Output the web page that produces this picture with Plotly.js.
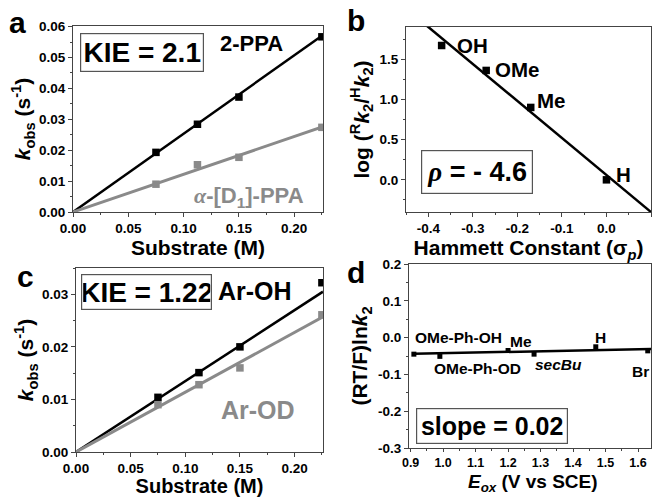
<!DOCTYPE html>
<html><head><meta charset="utf-8">
<script src="https://cdn.plot.ly/plotly-3.0.1.min.js"></script>
<style>html,body{margin:0;padding:0;background:#fff}#chart{width:658px;height:497px}</style>
</head><body><div id="chart"></div>
<script>
// ---------- Panel a: kobs vs [substrate], 2-PPA vs alpha-[D1]-PPA ----------
const substrateA = [0.075, 0.1125, 0.15, 0.225];
const kobsPPA = [0.0193, 0.0284, 0.0372, 0.0567];
const kobsD1PPA = [0.0090, 0.0153, 0.0177, 0.0274];
const fitXA = [0, 0.226];
const fitPPA = [0, 0.0573];
const fitD1PPA = [0, 0.0276];

// ---------- Panel b: Hammett plot ----------
const sigmaP = [-0.37, -0.27, -0.17, 0.0];
const logRatio = [1.67, 1.36, 0.90, 0.0];
const substituentsB = ["OH", "OMe", "Me", "H"];
const fitXB = [-0.41, 0.1];
const fitYB = [1.946, -0.40];

// ---------- Panel c: kobs vs [substrate], Ar-OH vs Ar-OD ----------
const substrateC = [0.075, 0.1125, 0.15, 0.225];
const kobsArOH = [0.0104, 0.0151, 0.0200, 0.0322];
const kobsArOD = [0.0090, 0.0128, 0.0160, 0.0261];
const fitXC = [0, 0.226];
const fitArOH = [0, 0.0305];
const fitArOD = [0, 0.0257];

// ---------- Panel d: (RT/F)ln k2 vs Eox ----------
const eox = [0.91, 0.99, 1.20, 1.28, 1.47, 1.63];
const rtfLnK2 = [-0.045, -0.051, -0.035, -0.045, -0.025, -0.036];
const substituentsD = ["OMe-Ph-OH", "OMe-Ph-OD", "Me", "secBu", "H", "Br"];
const fitXD = [0.91, 1.64];
const fitYD = [-0.044, -0.031];

// tick labels (hyphen minus as in the original)
const tickValsBx = [-0.4, -0.3, -0.2, -0.1, 0.0, 0.1];
const tickTextBx = ["-0.4", "-0.3", "-0.2", "-0.1", "0.0", "0.1"];
const tickValsDy = [-0.3, -0.2, -0.1, 0.0, 0.1, 0.2];
const tickTextDy = ["-0.3", "-0.2", "-0.1", "0.0", "0.1", "0.2"];

const W = 658, H = 497;
const BLACK = '#000000', GRAY = '#8a8a8a';
const FONT = 'Liberation Sans, Arial, sans-serif';

function mk(x, y, color, xa, ya, size) {
  return {x: x, y: y, xaxis: xa, yaxis: ya, type: 'scatter', mode: 'markers',
    marker: {symbol: 'square', size: size || 7.5, color: color}, showlegend: false, hoverinfo: 'x+y'};
}
function ln(x, y, color, xa, ya, w) {
  return {x: x, y: y, xaxis: xa, yaxis: ya, type: 'scatter', mode: 'lines',
    line: {color: color, width: w || 2.5}, showlegend: false, hoverinfo: 'skip'};
}

const traces = [
  ln(fitXA, fitPPA, BLACK, 'x', 'y', 2.5),
  ln(fitXA, fitD1PPA, GRAY, 'x', 'y', 3),
  mk(substrateA, kobsPPA, BLACK, 'x', 'y'),
  mk(substrateA, kobsD1PPA, GRAY, 'x', 'y'),
  ln(fitXB, fitYB, BLACK, 'x2', 'y2', 2.5),
  mk(sigmaP, logRatio, BLACK, 'x2', 'y2'),
  ln(fitXC, fitArOH, BLACK, 'x3', 'y3', 2.5),
  ln(fitXC, fitArOD, GRAY, 'x3', 'y3', 3),
  mk(substrateC, kobsArOH, BLACK, 'x3', 'y3'),
  mk(substrateC, kobsArOD, GRAY, 'x3', 'y3'),
  ln(fitXD, fitYD, BLACK, 'x4', 'y4', 2.5),
  mk(eox, rtfLnK2, BLACK, 'x4', 'y4', 5)
];

const tickFont = {family: FONT, size: 13.5, color: '#000', weight: 'bold'};
const tickFontD = {family: FONT, size: 12.5, color: '#000', weight: 'bold'};
const titleFont = {family: FONT, size: 21, color: '#000', weight: 'bold'};
const titleFontLow = {family: FONT, size: 20, color: '#000', weight: 'bold'};
function axis(domain, range, extra) {
  return Object.assign({
    domain: domain, range: range, showline: true, linecolor: '#444', linewidth: 1,
    mirror: true, ticks: 'outside', ticklen: 4, tickwidth: 1, tickcolor: '#444',
    showgrid: false, zeroline: false, tickfont: tickFont, fixedrange: true
  }, extra);
}
function xd(a, b) { return [a / W, b / W]; }
function yd(top, bottom) { return [1 - bottom / H, 1 - top / H]; }

const layout = {
  width: W, height: H, margin: {l: 0, r: 0, t: 0, b: 0},
  paper_bgcolor: '#fff', plot_bgcolor: '#fff', showlegend: false,
  font: {family: FONT},
  xaxis: axis(xd(73, 323), [0, 0.226], {anchor: 'y', dtick: 0.05, tick0: 0, tickformat: '.2f',
    minor: {dtick: 0.025, ticks: 'outside', ticklen: 2, tickcolor: '#444'},
    title: {text: 'Substrate (M)', font: titleFont, standoff: 1}}),
  yaxis: axis(yd(26, 212), [0, 0.0602], {anchor: 'x', dtick: 0.01, tick0: 0, tickformat: '.2f',
    minor: {dtick: 0.005, ticks: 'outside', ticklen: 2, tickcolor: '#444'},
    title: {text: '<i>k</i><sub>obs</sub> (s<sup>-1</sup>)', font: titleFont, standoff: 2}}),
  xaxis2: axis(xd(406, 651), [-0.45, 0.1], {anchor: 'y2', tickvals: tickValsBx, ticktext: tickTextBx,
    minor: {dtick: 0.05, tick0: 0, ticks: 'outside', ticklen: 2, tickcolor: '#444'},
    title: {text: 'Hammett Constant (σ<sub><i>p</i></sub>)', font: titleFont, standoff: 1}}),
  yaxis2: axis(yd(27, 212), [-0.4, 1.9], {anchor: 'x2', dtick: 0.5, tick0: 0, tickformat: '.1f',
    minor: {dtick: 0.25, tick0: 0, ticks: 'outside', ticklen: 2, tickcolor: '#444'},
    title: {text: 'log (<sup>R</sup><i>k</i><sub>2</sub>/<sup>H</sup><i>k</i><sub>2</sub>)', font: titleFont, standoff: 4}}),
  xaxis3: axis(xd(76, 323), [0, 0.226], {anchor: 'y3', dtick: 0.05, tick0: 0, tickformat: '.2f',
    minor: {dtick: 0.025, ticks: 'outside', ticklen: 2, tickcolor: '#444'},
    title: {text: 'Substrate (M)', font: titleFontLow, standoff: 1}}),
  yaxis3: axis(yd(268, 452), [0, 0.035], {anchor: 'x3', dtick: 0.01, tick0: 0, tickformat: '.2f',
    minor: {dtick: 0.005, ticks: 'outside', ticklen: 2, tickcolor: '#444'},
    title: {text: '<i>k</i><sub>obs</sub> (s<sup>-1</sup>)', font: titleFont, standoff: 2}}),
  xaxis4: axis(xd(409, 651), [0.895, 1.64], {anchor: 'y4', dtick: 0.1, tick0: 0.9, tickformat: '.1f',
    tickfont: tickFontD, ticklen: 3,
    minor: {dtick: 0.05, tick0: 0.9, ticks: 'outside', ticklen: 2, tickcolor: '#444'}}),
  yaxis4: axis(yd(264, 448), [-0.3, 0.2], {anchor: 'x4', tickvals: tickValsDy, ticktext: tickTextDy,
    minor: {dtick: 0.05, tick0: 0, ticks: 'outside', ticklen: 2, tickcolor: '#444'},
    title: {text: '(RT/F)ln<i>k</i><sub>2</sub>', font: titleFont, standoff: 4}}),
  annotations: []
};

function ann(text, x, y, size, color, extra) {
  return Object.assign({text: text, x: x / W, y: 1 - y / H, xref: 'paper', yref: 'paper',
    showarrow: false, xanchor: 'center', yanchor: 'middle',
    font: {family: FONT, size: size, color: color || '#000', weight: 'bold'}}, extra || {});
}
function boxed(text, x0, x1, y0, y1, size) {
  return ann(text, (x0 + x1) / 2, (y0 + y1) / 2, size, '#000',
    {bordercolor: '#555', borderwidth: 1.2, borderpad: 1, bgcolor: 'rgba(255,255,255,0)',
     width: x1 - x0 - 4, height: y1 - y0 - 4, align: 'center', valign: 'middle'});
}

const A = layout.annotations;
// panel letters
A.push(ann('a', 17.5, 23, 30), ann('b', 356, 21, 30), ann('c', 25, 276, 30), ann('d', 356, 272, 30));
// panel a
A.push(boxed('KIE = 2.1', 80, 204, 33, 72, 28));
A.push(ann('2-PPA', 251, 43, 22));
A.push(ann('<span style="font-family:\'Liberation Serif\'"><i>α</i></span>-[D<sub>1</sub>]-PPA', 249, 197, 22, GRAY));
// panel b
const labPosB = [[472, 45], [517, 69], [551, 100], [623, 174]];
substituentsB.forEach((s, i) => A.push(ann(s, labPosB[i][0], labPosB[i][1], 20.5)));
A.push(boxed('<span style="font-family:\'Liberation Serif\'"><i>ρ</i></span> = - 4.6', 421, 533, 150, 194, 27));
// panel c
A.push(boxed('KIE = 1.22', 81, 212, 274, 310, 28));
A.push(ann('Ar-OH', 255.5, 291, 25));
A.push(ann('Ar-OD', 257.5, 410, 25, GRAY));
// panel d
const labPosD = [[458, 337], [477.5, 368], [521, 341], [558, 364], [600, 337.5], [640, 371]];
substituentsD.forEach((s, i) => A.push(ann(s === 'secBu' ? '<i>secBu</i>' : s, labPosD[i][0], labPosD[i][1], 15.5)));
A.push(boxed('slope = 0.02', 416, 568, 408, 444, 25));
// panel d x-axis title, placed against the bottom edge as in the original
A.push(ann('<i>E</i><sub><i>ox</i></sub> (V vs SCE)', 533, 497, 19, '#000', {yanchor: 'bottom'}));

Plotly.newPlot('chart', traces, layout, {staticPlot: true, displayModeBar: false});
</script>
</body></html>
